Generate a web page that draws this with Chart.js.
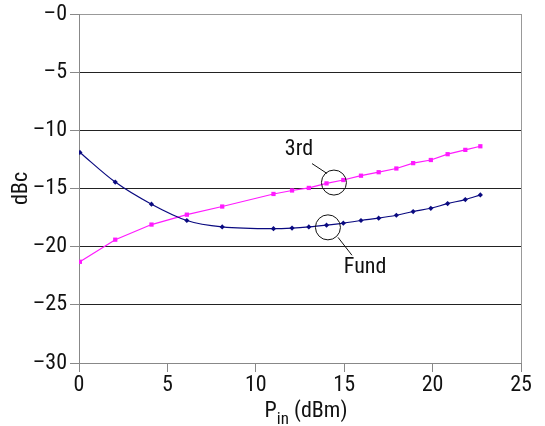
<!DOCTYPE html>
<html>
<head>
<meta charset="utf-8">
<script src="https://cdn.jsdelivr.net/npm/chart.js@4"></script>
<style>
  html, body { margin: 0; padding: 0; background: #fff; }
  #myChart { display: block; }
</style>
</head>
<body>
<canvas id="myChart" width="545" height="426"></canvas>
<script>
"use strict";

// values
var pin = [0.05, 2.05, 4.1, 6.1, 8.1, 11.0, 12.05, 13.0, 14.0, 14.95, 15.95, 16.95, 17.95, 18.9, 19.9, 20.85, 21.85, 22.7];
var fund = [-11.9, -14.45, -16.35, -17.75, -18.3, -18.45, -18.4, -18.3, -18.15, -17.98, -17.75, -17.55, -17.3, -16.98, -16.7, -16.3, -15.95, -15.55];
var third = [-21.3, -19.4, -18.1, -17.25, -16.55, -15.47, -15.17, -14.95, -14.56, -14.27, -13.9, -13.6, -13.28, -12.82, -12.55, -12.05, -11.68, -11.37];
var yTickLabels = ["\u201330", "\u201325", "\u201320", "\u201315", "\u201310", "\u20135", "\u20130"];
var xTickLabels = ["0", "5", "10", "15", "20", "25"];

var FONT = "'Roboto Condensed', 'DejaVu Sans Condensed', sans-serif";

function pts(xs, ys) {
    return xs.map(function (x, i) { return { x: x, y: ys[i] }; });
}

// circle callouts: label, circle centre, label centre, leader line (data units)
var callouts = [
    { text: "3rd", cx: 14.42, cy: -14.49, tx: 12.44, ty: -11.66, lx1: 13.18, ly1: -12.86, lx2: 14.03, ly2: -13.71 },
    { text: "Fund", cx: 14.08, cy: -18.34, tx: 16.18, ty: -21.77, lx1: 14.65, ly1: -19.2, lx2: 15.44, ly2: -20.74 }
];

var extras = {
    id: "extras",
    afterDatasetsDraw: function (chart) {
        var ctx = chart.ctx, a = chart.chartArea;
        var xs = chart.scales.x, ys = chart.scales.y;
        ctx.save();
        // right border
        ctx.strokeStyle = "#999";
        ctx.lineWidth = 1;
        ctx.beginPath();
        ctx.moveTo(a.right + 0.5, a.top);
        ctx.lineTo(a.right + 0.5, a.bottom);
        ctx.stroke();

        // callouts
        ctx.strokeStyle = "#111";
        ctx.fillStyle = "#111";
        ctx.font = "22px " + FONT;
        ctx.textAlign = "center";
        ctx.textBaseline = "middle";
        callouts.forEach(function (c) {
            ctx.beginPath();
            ctx.arc(xs.getPixelForValue(c.cx), ys.getPixelForValue(c.cy), 12.5, 0, Math.PI * 2);
            ctx.stroke();
            ctx.beginPath();
            ctx.moveTo(xs.getPixelForValue(c.lx1), ys.getPixelForValue(c.ly1));
            ctx.lineTo(xs.getPixelForValue(c.lx2), ys.getPixelForValue(c.ly2));
            ctx.stroke();
            ctx.fillText(c.text, xs.getPixelForValue(c.tx), ys.getPixelForValue(c.ty));
        });

        // x axis title with subscript
        var cx = 306, base = 417;
        ctx.textAlign = "left";
        ctx.textBaseline = "alphabetic";
        ctx.font = "22px " + FONT;
        var wP = ctx.measureText("P").width;
        var wRest = ctx.measureText(" (dBm)").width;
        ctx.font = "17px " + FONT;
        var wSub = ctx.measureText("in").width;
        var x0 = cx - (wP + wSub + wRest) / 2;
        ctx.font = "22px " + FONT;
        ctx.fillText("P", x0, base);
        ctx.font = "17px " + FONT;
        ctx.fillText("in", x0 + wP, base + 7);
        ctx.font = "22px " + FONT;
        ctx.fillText(" (dBm)", x0 + wP + wSub, base);
        ctx.restore();
    }
};

var ctx = document.getElementById("myChart");
var myChart = new Chart(ctx, {
    type: "line",
    data: {
        datasets: [{
            label: "Fund",
            data: pts(pin, fund),
            borderColor: "#0a0a80",
            backgroundColor: "#0a0a80",
            borderWidth: 1.2,
            pointStyle: "rectRot",
            pointRadius: 2.6,
            pointBorderWidth: 0,
            cubicInterpolationMode: "monotone"
        }, {
            label: "3rd",
            data: pts(pin, third),
            borderColor: "#ff1aff",
            backgroundColor: "#ff1aff",
            borderWidth: 1.2,
            pointStyle: "rect",
            pointRadius: 3,
            pointBorderWidth: 0,
            tension: 0
        }]
    },
    options: {
        responsive: false,
        devicePixelRatio: 1,
        animation: { duration: 0 },
        layout: { padding: { top: 13, right: 24, left: 0, bottom: 0 } },
        plugins: { legend: { display: false }, tooltip: { enabled: false } },
        scales: {
            x: {
                type: "linear",
                min: 0, max: 25,
                afterFit: function (s) { s.height = 63; },
                ticks: {
                    stepSize: 5,
                    color: "#111",
                    font: { family: FONT, size: 22 },
                    padding: 0,
                    maxRotation: 0,
                    callback: function (v) { return xTickLabels[Math.round(v / 5)]; }
                },
                grid: { drawOnChartArea: false, tickLength: 9, tickColor: "#888", lineWidth: 1 },
                border: { color: "#888", width: 1 }
            },
            y: {
                min: -30, max: 0,
                afterFit: function (s) { s.width = 79; },
                ticks: {
                    stepSize: 5,
                    color: "#111",
                    font: { family: FONT, size: 22, lineHeight: 1 },
                    padding: 3,
                    callback: function (v) { return yTickLabels[Math.round((v + 30) / 5)]; }
                },
                grid: {
                    tickLength: 9,
                    tickColor: "#888",
                    lineWidth: 1,
                    color: function (c) {
                        var v = c.tick && c.tick.value;
                        return (v === 0 || v === -30) ? "#999" : "#222";
                    }
                },
                border: { color: "#888", width: 1 },
                title: {
                    display: true,
                    text: "dBc",
                    color: "#111",
                    font: { family: FONT, size: 22 },
                    padding: { top: 8, bottom: 0 }
                }
            }
        }
    },
    plugins: [extras]
});
</script>
</body>
</html>
